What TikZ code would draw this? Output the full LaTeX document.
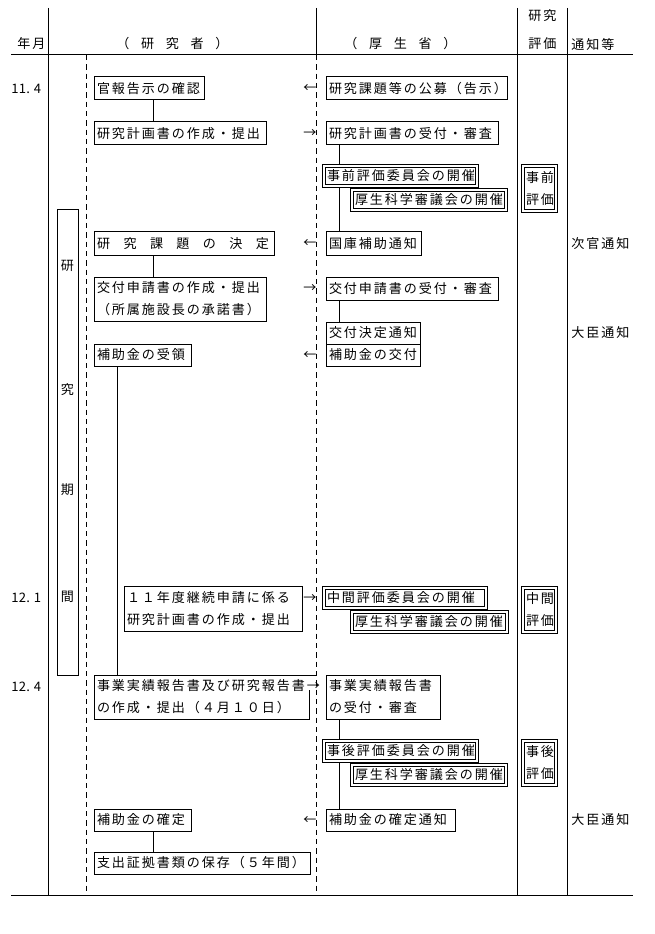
\documentclass[tikz,border=0pt]{standalone}
\usepackage{fontspec}
\newfontfamily\jp{Noto Sans CJK JP}
\usetikzlibrary{backgrounds,calc}
\newcommand\jpmonoW{11.25pt}
\newcommand\jpmono[2][11.25pt]{\def\jpmonoW{#1}\jpmonoloop#2\relax}
\def\jpmonoloop#1{\ifx\relax#1\else\makebox[\jpmonoW][l]{#1}\expandafter\jpmonoloop\fi}
\newcommand\bx[7][]{%
  \pgfmathsetmacro\bxw{(#5-#3)*0.75-4.5}%
  \pgfmathsetmacro\bxh{(#6-#4)*0.75}%
  \node[bxs,#1,text width=\bxw pt,minimum height=\bxh pt] (#2) at (#3,#4) {#7};}
\tikzset{
  jpf/.style={font=\jp\fontsize{9.8pt}{16.5pt}\selectfont},
  bxs/.style={draw, fill=white, line width=0.75pt, anchor=north west, outer sep=0pt,
              inner xsep=2.25pt, inner ysep=0pt, align=left, jpf},
  dbl/.style={double, double distance=1.5pt},
  nob/.style={draw=none, fill=none},
  lbl/.style={jpf, inner sep=0pt},
  conn/.style={line width=0.75pt},
  gridl/.style={line width=0.75pt},
  dsh/.style={line width=0.75pt, dash pattern=on 4pt off 3pt},
}
\begin{document}
\begin{tikzpicture}[x=0.75pt,y=-0.75pt]
\useasboundingbox (0,0) rectangle (654,934);
% header labels
\node[lbl,anchor=west] (hY) at (17,44) {\jpmono{年月}};
\node[lbl,anchor=west] (hR) at (116,44) {\jpmono[18.6pt]{（研究者）}};
\node[lbl,anchor=west] (hK) at (344,44) {\jpmono[18.6pt]{（厚生省）}};
\node[lbl,anchor=west] (hE1) at (528,16) {\jpmono{研究}};
\node[lbl,anchor=west] (hE2) at (528,44) {\jpmono{評価}};
\node[lbl,anchor=west] (hN) at (571,44) {\jpmono{通知等}};
% dates
\node[lbl,anchor=west] (d1) at (11,88.5) {\jpmono[5.625pt]{11.4}};
\node[lbl,anchor=west] (d2) at (11,598) {\jpmono[5.625pt]{12.1}};
\node[lbl,anchor=west] (d3) at (11,687) {\jpmono[5.625pt]{12.4}};
% research period box
\bx{P}{57}{210}{78}{675}{}
\node[lbl] (P1) at (67.5,266) {研};
\node[lbl] (P2) at (67.5,390) {究};
\node[lbl] (P3) at (67.5,490) {期};
\node[lbl] (P4) at (67.5,597) {間};
% researcher column
\bx{a1}{94}{77}{204}{100}{\jpmono{官報告示の確認}}
\bx{a2}{94}{122}{266}{145}{\jpmono{研究計画書の作成・提出}}
\bx{a3}{94}{232}{274}{255}{\jpmono[19.875pt]{研究課題の決定}}
\bx{a4}{94}{277}{266}{321}{\jpmono{交付申請書の作成・提出}\\\jpmono{（所属施設長の承諾書）}}
\bx{a5}{94}{344}{191}{366}{\jpmono{補助金の受領}}
\bx{a9}{124}{586}{302}{631}{\jpmono{１１年度継続申請に係る}\\\jpmono{研究計画書の作成・提出}}
\bx[nob]{a6}{94}{675}{309}{719}{\jpmono{事業実績報告書及び研究報告書→}\\\jpmono{の作成・提出（４月１０日）}}
\draw[conn] ($(a6.north east)+(7,0)$) -- (a6.north west) -- (a6.south west) -- (a6.south east) -- ($(a6.south east)+(0,-29)$);
\bx{a7}{94}{809}{191}{831}{\jpmono{補助金の確定}}
\bx{a8}{94}{852}{310}{874}{\jpmono{支出証拠書類の保存（５年間）}}
% ministry column
\bx{b1}{326}{77}{507}{100}{\jpmono{研究課題等の公募（告示）}}
\bx{b2}{326}{122}{498}{145}{\jpmono{研究計画書の受付・審査}}
\bx[dbl]{b3}{324}{166}{477}{186}{\jpmono{事前評価委員会の開催}}
\bx[dbl]{b4}{352}{190}{506}{210}{\jpmono{厚生科学審議会の開催}}
\bx[dbl]{e1}{523}{166}{556}{211}{\jpmono{事前}\\\jpmono{評価}}
\bx{b5}{326}{232}{421}{255}{\jpmono{国庫補助通知}}
\bx{b6}{326}{277}{498}{300}{\jpmono{交付申請書の受付・審査}}
\bx{b7}{326}{322}{420}{344}{\jpmono{交付決定通知}}
\bx{b8}{326}{344}{420}{366}{\jpmono{補助金の交付}}
\bx[dbl]{b9}{324}{588}{486}{608}{\jpmono{中間評価委員会の開催}}
\bx[dbl]{b10}{352}{612}{507}{632}{\jpmono{厚生科学審議会の開催}}
\bx[dbl]{e2}{523}{588}{556}{632}{\jpmono{中間}\\\jpmono{評価}}
\bx{b11}{326}{675}{440}{719}{\jpmono{事業実績報告書}\\\jpmono{の受付・審査}}
\bx[dbl]{b12}{324}{741}{477}{761}{\jpmono{事後評価委員会の開催}}
\bx[dbl]{b13}{352}{765}{506}{785}{\jpmono{厚生科学審議会の開催}}
\bx[dbl]{e3}{523}{741}{556}{785}{\jpmono{事後}\\\jpmono{評価}}
\bx{b14}{326}{809}{455}{831}{\jpmono{補助金の確定通知}}
% arrows between columns
\node[lbl] (r1) at (310,88.5) {←};
\node[lbl] (r2) at (310,133.5) {→};
\node[lbl] (r3) at (310,243.5) {←};
\node[lbl] (r4) at (310,288.5) {→};
\node[lbl] (r5) at (310,355) {←};
\node[lbl] (r6) at (310,598) {→};
\node[lbl] (r7) at (310,820) {←};
% notices
\node[lbl,anchor=west] (n1) at (571,243.5) {\jpmono{次官通知}};
\node[lbl,anchor=west] (n2) at (571,333) {\jpmono{大臣通知}};
\node[lbl,anchor=west] (n3) at (571,820) {\jpmono{大臣通知}};
% connector columns
\coordinate (cL) at (153,0);
\coordinate (cM) at (117,0);
\coordinate (cR) at (339,0);
\begin{scope}[on background layer]
  \fill[white] (0,0) rectangle (654,934);
  \draw[gridl] (11,55) -- (633,55);
  \draw[gridl] (11,895) -- (633,895);
  \draw[gridl] (48,8) -- (48,895);
  \draw[gridl] (316,8) -- (316,55);
  \draw[dsh] (316,55) -- (316,895);
  \draw[dsh] (86,55) -- (86,895);
  \draw[gridl] (517,8) -- (517,895);
  \draw[gridl] (567,8) -- (567,895);
  \draw[conn] (a1.south -| cL) -- (a2.north -| cL);
  \draw[conn] (a3.south -| cL) -- (a4.north -| cL);
  \draw[conn] (a7.south -| cL) -- (a8.north -| cL);
  \draw[conn] (a5.south -| cM) -- (a6.north -| cM);
  \draw[conn] (b2.south -| cR) -- (b5.north -| cR);
  \draw[conn] (b6.south -| cR) -- (b7.north -| cR);
  \draw[conn] (b11.south -| cR) -- (b14.north -| cR);
\end{scope}
\end{tikzpicture}
\end{document}
